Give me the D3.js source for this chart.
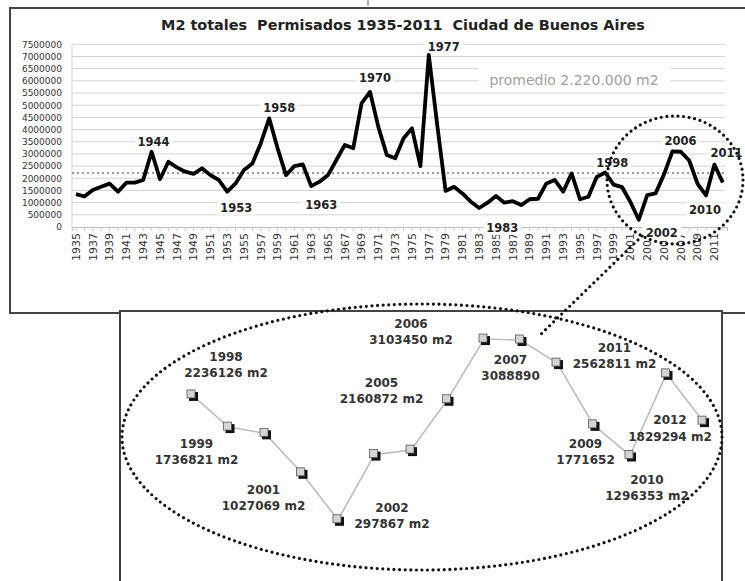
<!DOCTYPE html>
<html>
<head>
<meta charset="utf-8">
<script src="https://cdn.jsdelivr.net/npm/d3@7"></script>
<style>
  body { margin: 0; background: #fff; }
  svg { display: block; font-family: "DejaVu Sans", Verdana, sans-serif; }
</style>
</head>
<body>
<div id="chart"></div>
<script>
// M2 permitted per year, Ciudad de Buenos Aires
const years = [
  1935, 1936, 1937, 1938, 1939, 1940, 1941, 1942, 1943, 1944, 1945, 1946, 1947,
  1948, 1949, 1950, 1951, 1952, 1953, 1954, 1955, 1956, 1957, 1958, 1959, 1960,
  1961, 1962, 1963, 1964, 1965, 1966, 1967, 1968, 1969, 1970, 1971, 1972, 1973,
  1974, 1975, 1976, 1977, 1978, 1979, 1980, 1981, 1982, 1983, 1984, 1985, 1986,
  1987, 1988, 1989, 1990, 1991, 1992, 1993, 1994, 1995, 1996, 1997, 1998, 1999,
  2000, 2001, 2002, 2003, 2004, 2005, 2006, 2007, 2008, 2009, 2010, 2011, 2012
];
const m2 = [
  1350000, 1250000, 1520000, 1650000, 1780000, 1450000, 1820000, 1820000, 1930000, 3090000, 1960000, 2680000, 2450000,
  2270000, 2180000, 2410000, 2130000, 1930000, 1450000, 1790000, 2340000, 2610000, 3440000, 4460000, 3230000, 2130000,
  2500000, 2570000, 1680000, 1860000, 2130000, 2750000, 3370000, 3230000, 5080000, 5550000, 4100000, 2960000, 2820000,
  3640000, 4050000, 2500000, 7060000, 4200000, 1480000, 1650000, 1380000, 1040000, 780000, 1000000, 1270000, 1000000,
  1060000, 900000, 1140000, 1160000, 1790000, 1930000, 1450000, 2200000, 1140000, 1240000, 2060000, 2236126, 1736821,
  1640000, 1027069, 297867, 1310000, 1380000, 2160872, 3103450, 3088890, 2730000, 1771652, 1296353, 2562811, 1829294
];
const yTicks = [0, 500000, 1000000, 1500000, 2000000, 2500000, 3000000, 3500000,
  4000000, 4500000, 5000000, 5500000, 6000000, 6500000, 7000000, 7500000];
const promedio = 2220000;
const peakYears = [1944, 1958, 1970, 1977, 1953, 1963, 1983, 1998, 2006, 2011, 2010, 2002];

// zoomed detail 1998-2012
const zoomYears = [1998, 1999, 2000, 2001, 2002, 2003, 2004, 2005, 2006, 2007, 2008, 2009, 2010, 2011, 2012];
const zoomM2 = [2236126, 1736821, 1640000, 1027069, 297867, 1310000, 1380000, 2160872,
  3103450, 3088890, 2730000, 1771652, 1296353, 2562811, 1829294];
const zoomLabels = [
  {year: 1998, text: "2236126 m2"},
  {year: 1999, text: "1736821 m2"},
  {year: 2001, text: "1027069 m2"},
  {year: 2002, text: "297867 m2"},
  {year: 2005, text: "2160872 m2"},
  {year: 2006, text: "3103450 m2"},
  {year: 2007, text: "3088890"},
  {year: 2009, text: "1771652"},
  {year: 2010, text: "1296353 m2"},
  {year: 2011, text: "2562811 m2"},
  {year: 2012, text: "1829294 m2"}
];

const width = 745, height = 581;
const svg = d3.select("#chart").append("svg")
    .attr("width", width)
    .attr("height", height)
    .attr("viewBox", [0, 0, width, height]);

// outer frame of the main chart
svg.append("rect")
    .attr("x", 10).attr("y", 8)
    .attr("width", 760).attr("height", 305)
    .attr("fill", "#fff").attr("stroke", "#444").attr("stroke-width", 2);
svg.append("line")
    .attr("x1", 368).attr("x2", 368).attr("y1", 0).attr("y2", 6)
    .attr("stroke", "#666");

svg.append("text")
    .attr("x", 403).attr("y", 30)
    .attr("text-anchor", "middle")
    .attr("font-size", 14.4).attr("font-weight", "bold").attr("fill", "#222")
    .attr("xml:space", "preserve")
    .text("M2 totales  Permisados 1935-2011  Ciudad de Buenos Aires");

// scales
const x = d3.scaleBand()
    .domain(years)
    .range([71.8, 727]);
const y = d3.scaleLinear()
    .domain([0, 7500000])
    .range([227, 44.3]);
const cx = d => x(d) + x.bandwidth() / 2;
const valueOf = yr => m2[years.indexOf(yr)];

// gridlines
svg.append("g")
    .attr("stroke", "#d2d2d2")
    .selectAll("line")
    .data(yTicks.slice(1))
    .join("line")
    .attr("x1", 72).attr("x2", 725)
    .attr("y1", d => y(d)).attr("y2", d => y(d));

svg.append("line")
    .attr("x1", 72).attr("x2", 72).attr("y1", 44).attr("y2", 227)
    .attr("stroke", "#d5d5d5");

// y axis
svg.append("g")
    .attr("transform", "translate(72,0)")
    .call(d3.axisLeft(y).tickValues(yTicks).tickFormat(d3.format("d")).tickSize(0).tickPadding(10))
    .call(g => g.select(".domain").remove())
    .call(g => g.selectAll("text")
        .attr("font-family", "DejaVu Sans")
        .attr("font-size", 9)
        .attr("fill", "#333"));

// x axis
svg.append("g")
    .attr("transform", "translate(0,227)")
    .call(d3.axisBottom(x).tickSize(4).tickFormat(d => d % 2 ? d : ""))
    .call(g => g.select(".domain").attr("stroke", "#bbb"))
    .call(g => g.selectAll(".tick line").attr("stroke", "#ccc"))
    .call(g => g.selectAll("text")
        .attr("font-family", "DejaVu Sans")
        .attr("font-size", 11)
        .attr("fill", "#333")
        .attr("transform", "rotate(-90)")
        .attr("text-anchor", "end")
        .attr("x", -6).attr("y", 0).attr("dy", ".35em"));

// average line
svg.append("line")
    .attr("x1", 72).attr("x2", 725)
    .attr("y1", y(promedio)).attr("y2", y(promedio))
    .attr("stroke", "#999").attr("stroke-width", 2)
    .attr("stroke-dasharray", "2,3");

const prom = svg.append("g");
prom.append("rect")
    .attr("x", 478).attr("y", 68).attr("width", 192).attr("height", 24)
    .attr("fill", "#fff");
prom.append("text")
    .attr("x", 574).attr("y", 85)
    .attr("text-anchor", "middle")
    .attr("font-size", 14).attr("fill", "#a0a0a0")
    .text("promedio 2.220.000 m2");

// label offsets from the data point
const peakOffset = {
  1944: [2, -10], 1958: [10, -10], 1970: [5, -14], 1977: [15, -8],
  1953: [9, 16], 1963: [10, 19], 1983: [23, 20], 1998: [7, -10],
  2006: [8, -11], 2011: [12, -12], 2010: [-1, 14], 2002: [23, 13]
};
const peaks = svg.append("g")
    .selectAll("g")
    .data(peakYears)
    .join("g")
    .attr("transform", d => `translate(${cx(d) + peakOffset[d][0]},${y(valueOf(d)) + peakOffset[d][1]})`);
peaks.append("rect")
    .attr("x", -19).attr("y", -7).attr("width", 38).attr("height", 14)
    .attr("fill", "#fff");

// main line
svg.append("path")
    .datum(years)
    .attr("fill", "none")
    .attr("stroke", "#000")
    .attr("stroke-width", 3.8)
    .attr("stroke-linejoin", "round")
    .attr("d", d3.line().x(d => cx(d)).y(d => y(valueOf(d))));

peaks.append("text")
    .attr("text-anchor", "middle")
    .attr("dy", ".36em")
    .attr("font-size", 11.5).attr("font-weight", "bold").attr("fill", "#222")
    .text(d => d);

// detail panel
svg.append("rect")
    .attr("x", 120).attr("y", 311)
    .attr("width", 602).attr("height", 290)
    .attr("fill", "#fff").attr("stroke", "#444").attr("stroke-width", 2);

const zx = d3.scalePoint().domain(zoomYears).range([192, 703]);
const zy = d3.scaleLinear().domain([0, 3500000]).range([539, 313.5]);
const zValue = yr => zoomM2[zoomYears.indexOf(yr)];

svg.append("path")
    .datum(zoomYears)
    .attr("fill", "none")
    .attr("stroke", "#bdbdbd")
    .attr("stroke-width", 1.6)
    .attr("d", d3.line().x(d => zx(d)).y(d => zy(zValue(d))));

const markers = svg.append("g")
    .selectAll("g")
    .data(zoomYears)
    .join("g")
    .attr("transform", d => `translate(${zx(d)},${zy(zValue(d))})`);
markers.append("rect")
    .attr("x", -3).attr("y", -3).attr("width", 9).attr("height", 9)
    .attr("fill", "#111");
markers.append("rect")
    .attr("x", -5).attr("y", -5).attr("width", 8).attr("height", 8)
    .attr("fill", "#d4d4d4").attr("stroke", "#555").attr("stroke-width", 0.8);

const zoomOffset = {
  1998: [34, -38], 1999: [-32, 17], 2001: [-38, 17], 2002: [54, -12],
  2005: [-66, -17], 2006: [-73, -15], 2007: [-10, 20], 2009: [-8, 19],
  2010: [17, 24], 2011: [-52, -26], 2012: [-33, -1]
};
const zl = svg.append("g")
    .selectAll("g")
    .data(zoomLabels)
    .join("g")
    .attr("transform", d => `translate(${zx(d.year) + zoomOffset[d.year][0]},${zy(zValue(d.year)) + zoomOffset[d.year][1]})`)
    .attr("text-anchor", "middle")
    .attr("font-size", 12).attr("font-weight", "bold").attr("fill", "#333");
zl.append("text").attr("dy", ".36em").text(d => d.year);
zl.append("text").attr("dy", "1.7em").text(d => d.text);

// dotted ellipses and connector
const dotted = g => g
    .attr("fill", "none")
    .attr("stroke", "#111")
    .attr("stroke-width", 3.2)
    .attr("stroke-linecap", "round")
    .attr("stroke-dasharray", "0,5.6");
svg.append("ellipse")
    .attr("cx", 675).attr("cy", 180).attr("rx", 68).attr("ry", 64)
    .call(dotted);
svg.append("line")
    .attr("x1", 642).attr("y1", 236).attr("x2", 538).attr("y2", 337)
    .call(dotted);
svg.append("ellipse")
    .attr("cx", 422).attr("cy", 437).attr("rx", 300).attr("ry", 133)
    .call(dotted);
</script>
</body>
</html>
